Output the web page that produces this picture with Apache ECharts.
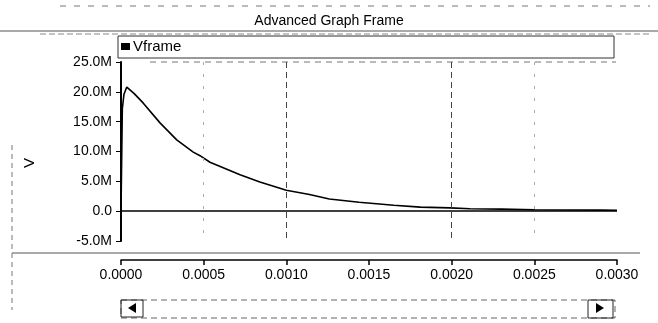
<!DOCTYPE html>
<html>
<head>
<meta charset="utf-8">
<script src="https://cdn.jsdelivr.net/npm/echarts@6/dist/echarts.min.js"></script>
<style>
  html, body { margin: 0; padding: 0; background: #fff; }
  #chart { width: 658px; height: 323px; }
</style>
</head>
<body>
<div id="chart"></div>
<script>
  // values: time in s, voltage in V
  const times = [0, 0.000008, 0.000014, 0.000018, 0.000035, 0.000080, 0.000135, 0.000236, 0.000337,
    0.000437, 0.000478, 0.000538, 0.000600, 0.000720, 0.000840, 0.001000, 0.001140, 0.001260,
    0.001440, 0.001650, 0.001810, 0.001990, 0.002110, 0.002300, 0.002500, 0.002700, 0.002900, 0.003000]
  const vframe = [0, 17.2e6, 17.4e6, 19.6e6, 20.8e6, 19.7e6, 18.1e6, 14.8e6, 11.95e6,
    9.9e6, 9.3e6, 8.2e6, 7.5e6, 6.1e6, 4.9e6, 3.5e6, 2.8e6, 2.05e6,
    1.5e6, 1.0e6, 0.67e6, 0.55e6, 0.4e6, 0.35e6, 0.25e6, 0.2e6, 0.17e6, 0.15e6]
  const xTicks = [0, 0.0005, 0.0010, 0.0015, 0.0020, 0.0025, 0.0030]
  const yTicks = [-5e6, 0, 5e6, 10e6, 15e6, 20e6, 25e6]
  // dashed guide lines visible in the scan (strong ones and faint ones)
  const strongGuides = [0.0010, 0.0020]
  const faintGuides = [0.0005, 0.0025]

  const font = 'Liberation Sans, Arial, sans-serif'
  const chart = echarts.init(document.getElementById('chart'))

  const yMin = yTicks[0]
  const yMax = yTicks[yTicks.length - 1]

  function yLabel(v) {
    if (v === 0) return '0.0'
    return (v / 1e6).toFixed(1) + 'M'
  }

  function guide(x, style) {
    return [{ coord: [x, yMax], lineStyle: style }, { coord: [x, yMin] }]
  }
  const guideLines = strongGuides.map(x => guide(x, { color: '#444', type: [6, 4], width: 1 }))
    .concat(faintGuides.map(x => guide(x, { color: '#aaa', type: [3, 9], width: 1 })))

  const option = {
    backgroundColor: '#ffffff',
    animation: false,
    textStyle: { fontFamily: font },
    title: {
      text: 'Advanced Graph Frame',
      left: 'center',
      top: 9,
      textStyle: { fontSize: 14, fontWeight: 'normal', color: '#000', fontFamily: font }
    },
    legend: {
      left: 121,
      top: 39,
      padding: 0,
      icon: 'rect',
      itemWidth: 9,
      itemHeight: 7,
      itemGap: 4,
      data: ['Vframe'],
      textStyle: { fontSize: 15, color: '#000', fontFamily: font, padding: [0, 0, 0, -2] }
    },
    grid: { left: 121, right: 41, top: 62, bottom: 82 },
    xAxis: {
      type: 'value',
      min: xTicks[0],
      max: xTicks[xTicks.length - 1],
      interval: 0.0005,
      offset: 19,
      axisLine: { onZero: false, lineStyle: { color: '#000', width: 1.5 } },
      axisTick: { show: true, length: 5, lineStyle: { color: '#000', width: 1.5 } },
      axisLabel: {
        margin: 8,
        fontSize: 14,
        color: '#000',
        fontFamily: font,
        formatter: v => v.toFixed(4)
      },
      splitLine: { show: false }
    },
    yAxis: {
      type: 'value',
      min: yMin,
      max: yMax,
      interval: 5e6,
      axisLine: { show: true, lineStyle: { color: '#000', width: 2 } },
      axisTick: { show: true, length: 5, lineStyle: { color: '#000' } },
      axisLabel: { margin: 9, fontSize: 14, color: '#000', fontFamily: font, formatter: yLabel },
      splitLine: { show: false }
    },
    series: [{
      name: 'Vframe',
      type: 'line',
      data: times.map((t, i) => [t, vframe[i]]),
      showSymbol: false,
      symbol: 'none',
      itemStyle: { color: '#000' },
      lineStyle: { color: '#000', width: 1.6 },
      z: 3,
      markLine: {
        silent: true,
        symbol: 'none',
        label: { show: false },
        lineStyle: { color: '#000', width: 1.5, type: 'solid' },
        data: [{ yAxis: 0 }].concat(guideLines)
      }
    }],
    graphic: [
      // frame lines from the scanned window
      { type: 'line', shape: { x1: 60, y1: 6, x2: 650, y2: 6 }, style: { stroke: '#777', lineDash: [6, 8] } },
      { type: 'line', shape: { x1: 0, y1: 31, x2: 658, y2: 31 }, style: { stroke: '#555', lineWidth: 1 } },
      { type: 'line', shape: { x1: 40, y1: 34, x2: 650, y2: 34 }, style: { stroke: '#888', lineDash: [6, 3] } },
      { type: 'line', shape: { x1: 12, y1: 253, x2: 640, y2: 253 }, style: { stroke: '#555', lineWidth: 1 } },
      { type: 'line', shape: { x1: 12, y1: 145, x2: 12, y2: 310 }, style: { stroke: '#777', lineDash: [5, 4] } },
      { type: 'line', shape: { x1: 150, y1: 62, x2: 616, y2: 62 }, style: { stroke: '#777', lineDash: [6, 5] } },
      // legend box
      { type: 'rect', shape: { x: 118, y: 36, width: 496, height: 22 }, style: { fill: 'none', stroke: '#333', lineWidth: 1 } },
      // y axis name
      { type: 'text', x: 30, y: 163, rotation: Math.PI / 2, style: { text: 'V', fontSize: 15, fill: '#000', fontFamily: font, align: 'center', verticalAlign: 'middle' } },
      // scroll bar
      { type: 'rect', shape: { x: 121, y: 300, width: 494, height: 18 }, style: { fill: 'none', stroke: '#666', lineDash: [6, 4] } },
      { type: 'rect', shape: { x: 121, y: 300, width: 22, height: 17 }, style: { fill: 'none', stroke: '#222', lineWidth: 1 } },
      { type: 'polygon', shape: { points: [[128, 308], [136, 303], [136, 313]] }, style: { fill: '#000' } },
      { type: 'rect', shape: { x: 588, y: 300, width: 25, height: 18 }, style: { fill: 'none', stroke: '#222', lineWidth: 1 } },
      { type: 'polygon', shape: { points: [[604, 308], [596, 303], [596, 313]] }, style: { fill: '#000' } }
    ]
  }
  chart.setOption(option)
</script>
</body>
</html>
